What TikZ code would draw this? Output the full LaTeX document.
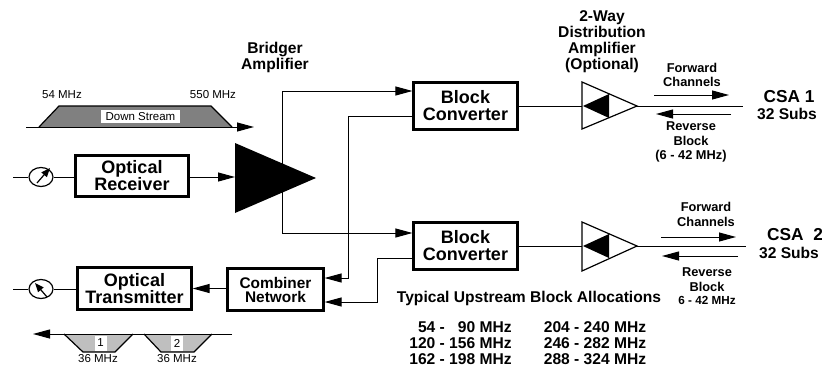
\documentclass[tikz,border=0pt]{standalone}
\usepackage{fontspec}
\setmainfont{Liberation Sans}
\usepackage{tikz}
\usetikzlibrary{arrows.meta,shapes.geometric}
\tikzset{
    blockbox/.style={draw, line width=2.2pt, inner sep=0pt, align=center, font=\bfseries\fontsize{18}{17}\selectfont},
    dial/.style={draw, ellipse, line width=1.2pt, inner sep=0pt, minimum width=24pt, minimum height=19pt},
    wire/.style={line width=1pt},
    sig/.style={line width=1pt, -{Triangle[length=17pt,width=9pt]}},
    dialtip/.style={line width=1.2pt, -{Triangle[length=9pt,width=7pt]}},
    txt/.style={inner sep=0pt, align=center},
    tbig/.style={txt, font=\bfseries\fontsize{15.6}{16}\selectfont},
    tmid/.style={txt, font=\bfseries\fontsize{12.8}{14.5}\selectfont},
    tsmall/.style={txt, font=\fontsize{11.5}{12}\selectfont}
}
\begin{document}
\begin{tikzpicture}[x=1pt, y=-1pt]
    \useasboundingbox (0,0) rectangle (822,367);
    \node[tsmall] (lowfreq) at (62,95) {54 MHz};
    \node[tsmall] (highfreq) at (213,95) {550 MHz};
    \draw[line width=1.2pt, fill=black!50] (39,127) -- (59,106) -- (211,106) -- (232,127);
    \node[tsmall, fill=white, minimum width=79pt, minimum height=13pt] (downlabel) at (140.5,116.5) {Down Stream};
    \coordinate (dsstart) at (26,127);
    \coordinate (dsend) at (254,127);
    \draw[sig] (dsstart) -- (dsend);
    \node[tbig] (bridger) at (275,57) {Bridger\\Amplifier};
    \coordinate (rxfree) at (13,177);
    \node[dial] (rxdial) at (41,177) {};
    \node[blockbox, minimum width=113pt, minimum height=41pt] (receiver) at (132,176) {Optical\\Receiver};
    \coordinate (ampin) at (235,177);
    \coordinate (amptop) at (235,143);
    \coordinate (ampbot) at (235,213);
    \coordinate (amptip) at (316,178);
    \coordinate (ampup) at (282,91);
    \coordinate (ampdown) at (282,233);
    \fill (amptop) -- (amptip) -- (ampbot) -- cycle;
    \draw[wire] (rxfree) -- (rxdial);
    \draw[dialtip] ([shift={(-4,6)}]rxdial.center) -- ([shift={(9,-9)}]rxdial.center);
    \draw[wire] (rxdial) -- (receiver.west |- rxdial);
    \draw[sig] (receiver.east |- ampin) -- (ampin);
    \node[blockbox, minimum width=104pt, minimum height=47pt] (blockone) at (465.5,106) {Block\\Converter};
    \node[blockbox, minimum width=104pt, minimum height=47pt] (blocktwo) at (465.5,246) {Block\\Converter};
    \draw[sig] (ampdown) -- (ampup) -- (blockone.west |- ampup);
    \draw[sig] (ampdown) -- (blocktwo.west |- ampdown);
    \node[blockbox, font=\bfseries\fontsize{15.4}{14}\selectfont, minimum width=96pt, minimum height=42pt] (combiner) at (275.5,289.5) {Combiner\\Network};
    \node[blockbox, minimum width=114pt, minimum height=42pt] (transmitter) at (134.5,288.5) {Optical\\Transmitter};
    \node[dial] (txdial) at (41,289) {};
    \coordinate (txfree) at (13,289);
    \coordinate (oneturn) at (348,116);
    \coordinate (onedown) at (348,278);
    \coordinate (twoturn) at (377,258);
    \coordinate (twodown) at (377,302);
    \draw[sig] (blockone.west |- oneturn) -- (oneturn) -- (onedown) -- (combiner.east |- onedown);
    \draw[sig] (blocktwo.west |- twoturn) -- (twoturn) -- (twodown) -- (combiner.east |- twodown);
    \draw[sig] (combiner.west |- transmitter) -- (transmitter.east);
    \draw[wire] (transmitter.west |- txdial) -- (txdial);
    \draw[wire] (txdial) -- (txfree);
    \draw[dialtip] ([shift={(6,8)}]txdial.center) -- ([shift={(-6,-6)}]txdial.center);
    \coordinate (usstart) at (232,334);
    \coordinate (usend) at (33,334);
    \draw[line width=1.2pt, fill=black!25] (64,334) -- (83,352) -- (115,352) -- (133,334);
    \draw[line width=1.2pt, fill=black!25] (144,334) -- (161,352) -- (194,352) -- (212,334);
    \draw[sig] (usstart) -- (usend);
    \node[tsmall, fill=white, minimum width=12pt, minimum height=15pt] (bandone) at (100.5,343) {1};
    \node[tsmall, fill=white, minimum width=12pt, minimum height=15pt] (bandtwo) at (177,343) {2};
    \node[tsmall] (widthone) at (98,359) {36 MHz};
    \node[tsmall] (widthtwo) at (177,359) {36 MHz};
    \coordinate (ampatop) at (582,82);
    \coordinate (ampabot) at (582,129);
    \coordinate (ampatip) at (637,106);
    \coordinate (csaaend) at (743,106);
    \draw[wire] (blockone.east |- ampatip) -- (ampatip -| ampatop);
    \draw[line width=1.2pt, fill=white] (ampatop) -- (ampatip) -- (ampabot) -- cycle;
    \fill (583,106) -- (609,94) -- (609,118) -- cycle;
    \draw[wire] (ampatip) -- (csaaend);
    \coordinate (fwdastart) at (654,95);
    \coordinate (fwdaend) at (729,95);
    \coordinate (revastart) at (731,114);
    \coordinate (revaend) at (656,114);
    \draw[sig] (fwdastart) -- (fwdaend);
    \draw[sig] (revastart) -- (revaend);
    \node[tbig] (twoway) at (602,42) {2-Way\\Distribution\\Amplifier\\(Optional)};
    \node[tmid] (fwdatext) at (692,75) {Forward\\Channels};
    \node[tmid] (revatext) at (691,142) {Reverse\\Block\\(6 - 42 MHz)};
    \node[txt, font=\bfseries\fontsize{17.3}{18}\selectfont] (csaa) at (789,97) {CSA 1};
    \node[tbig] (subsa) at (787,114) {32 Subs};
    \coordinate (ampbtop) at (582,222);
    \coordinate (ampbbot) at (582,271);
    \coordinate (ampbtip) at (637,246);
    \coordinate (csabend) at (746,246);
    \draw[wire] (blocktwo.east |- ampbtip) -- (ampbtip -| ampbtop);
    \draw[line width=1.2pt, fill=white] (ampbtop) -- (ampbtip) -- (ampbbot) -- cycle;
    \fill (583,246) -- (609,234) -- (609,258) -- cycle;
    \draw[wire] (ampbtip) -- (csabend);
    \coordinate (fwdbstart) at (661,237);
    \coordinate (fwdbend) at (736,237);
    \coordinate (revbstart) at (738,256);
    \coordinate (revbend) at (662,256);
    \draw[sig] (fwdbstart) -- (fwdbend);
    \draw[sig] (revbstart) -- (revbend);
    \node[tmid] (fwdbtext) at (706,214.5) {Forward\\Channels};
    \node[tmid] (revbtext) at (707,279.5) {Reverse\\Block};
    \node[txt, font=\bfseries\fontsize{11.7}{12}\selectfont] (revbband) at (707,300) {6 - 42 MHz};
    \node[txt, font=\bfseries\fontsize{17.3}{18}\selectfont] (csab) at (795,235) {CSA\ \ 2};
    \node[tbig] (subsb) at (789,253) {32 Subs};
    \node[tbig] (typical) at (529,298) {Typical Upstream Block Allocations};
    \node[tbig, align=left] (rangesa) at (460.5,343) {\phantom{1}54 - \phantom{1}90 MHz\\120 - 156 MHz\\162 - 198 MHz};
    \node[tbig, align=left] (rangesb) at (595,343) {204 - 240 MHz\\246 - 282 MHz\\288 - 324 MHz};
\end{tikzpicture}
\end{document}
